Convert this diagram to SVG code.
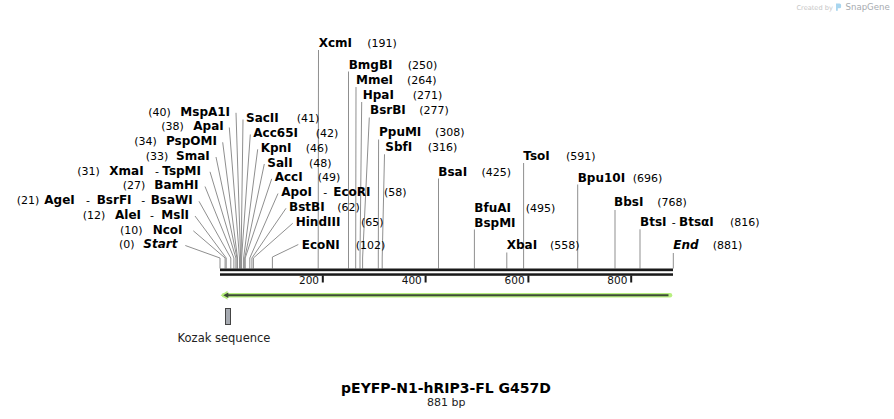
<svg xmlns="http://www.w3.org/2000/svg" width="894" height="419" viewBox="0 0 894 419">
<style>
text{font-family:"DejaVu Sans",Verdana,sans-serif;fill:#000}
.n{font-weight:bold;font-size:12px}
.i{font-style:italic}
.p{font-size:11px;font-weight:normal}
.d{font-size:11px;font-weight:normal}
.ln{stroke:#8f8f8f;stroke-width:1;fill:none}
.ax{fill:#1a1a1a}
.tk{font-size:10.5px;fill:#111;text-anchor:end}
</style>
<rect width="894" height="419" fill="#fff"/>

<g id="watermark">
<text x="796.5" y="9.5" style="font-size:6.6px;fill:#c6c6c6">Created by</text>
<path d="M836 3.5h3.5a1.6 1.6 0 0 1 1.6 1.6v1.6a1.6 1.6 0 0 1-1.6 1.6h-1.7v2.4h-1.8z" fill="#a9d6ef"/>
<text x="845.5" y="10.3" style="font-size:8.6px;fill:#a7abb0">SnapGene</text>
</g>

<g id="connectors">
<polyline class="ln" points="185.3,245.5 220,258 220,268.5"/>
<polyline class="ln" points="193.3,230.8 225.1,258 225.1,268.5"/>
<polyline class="ln" points="195,216 226.2,258 226.2,268.5"/>
<polyline class="ln" points="199,201.3 230.8,258 230.8,268.5"/>
<polyline class="ln" points="205,186.5 233.9,258 233.9,268.5"/>
<polyline class="ln" points="210,171.8 235.9,258 235.9,268.5"/>
<polyline class="ln" points="216,157 237,258 237,268.5"/>
<polyline class="ln" points="222.7,142.3 237.5,258 237.5,268.5"/>
<polyline class="ln" points="229.3,127.5 239.5,258 239.5,268.5"/>
<polyline class="ln" points="236,112.8 240.6,258 240.6,268.5"/>
<polyline class="ln" points="243,119.5 241.1,258 241.1,268.5"/>
<polyline class="ln" points="250.3,134.5 241.6,258 241.6,268.5"/>
<polyline class="ln" points="257.7,149.3 243.6,258 243.6,268.5"/>
<polyline class="ln" points="264.3,164 244.7,258 244.7,268.5"/>
<polyline class="ln" points="271.7,178.8 245.2,258 245.2,268.5"/>
<polyline class="ln" points="278,193.5 249.8,258 249.8,268.5"/>
<polyline class="ln" points="286,208.3 251.9,258 251.9,268.5"/>
<polyline class="ln" points="292.7,223.3 253.4,258 253.4,268.5"/>
<polyline class="ln" points="298.3,244.5 272.4,257 272.4,268.5"/>
<polyline class="ln" points="318.5,50 318.2,258 318.2,268.5"/>
<polyline class="ln" points="348.5,71.5 348.5,258 348.5,268.5"/>
<polyline class="ln" points="356,87 355.7,258 355.7,268.5"/>
<polyline class="ln" points="361.7,102 360,258 360,268.5"/>
<polyline class="ln" points="369.3,117.5 362.6,258 362.6,268.5"/>
<polyline class="ln" points="378.6,139.5 378.3,258 378.3,268.5"/>
<polyline class="ln" points="384.5,154.3 382.2,258 382.2,268.5"/>
<polyline class="ln" points="438.5,178.5 438.5,258 438.5,268.5"/>
<polyline class="ln" points="474.4,229.5 474.4,258 474.4,268.5"/>
<polyline class="ln" points="506.8,252.5 506.8,258 506.8,268.5"/>
<polyline class="ln" points="523.6,163 523.6,258 523.6,268.5"/>
<polyline class="ln" points="577.7,184.5 577.7,258 577.7,268.5"/>
<polyline class="ln" points="615,210 615,258 615,268.5"/>
<polyline class="ln" points="640,229.3 640,258 640,268.5"/>
<polyline class="ln" points="673.3,253 673.3,258 673.3,268.5"/>
</g>

<g id="enzymes-left">
<g id="e-start"><text x="119" y="248.3"><tspan class="p">(0)</tspan><tspan class="n i" x="143.3">Start</tspan></text></g>
<g id="e-ncoi"><text x="120" y="233.5"><tspan class="p">(10)</tspan><tspan class="n" x="152.7">NcoI</tspan></text></g>
<g id="e-alei"><text x="82.7" y="218.8"><tspan class="p">(12)</tspan><tspan class="n" x="115">AleI</tspan><tspan class="d" x="150">-</tspan><tspan class="n" x="161.3">MslI</tspan></text></g>
<g id="e-agei"><text x="16.7" y="204"><tspan class="p">(21)</tspan><tspan class="n" x="44.3">AgeI</tspan><tspan class="d" x="86">-</tspan><tspan class="n" x="96.7">BsrFI</tspan><tspan class="d" x="141.3">-</tspan><tspan class="n" x="150.7">BsaWI</tspan></text></g>
<g id="e-bamhi"><text x="122.7" y="189.3"><tspan class="p">(27)</tspan><tspan class="n" x="154.3">BamHI</tspan></text></g>
<g id="e-xmai"><text x="77.3" y="174.5"><tspan class="p">(31)</tspan><tspan class="n" x="109.3">XmaI</tspan><tspan class="d" x="155">-</tspan><tspan class="n" x="162.3">TspMI</tspan></text></g>
<g id="e-smai"><text x="145.7" y="159.8"><tspan class="p">(33)</tspan><tspan class="n" x="176">SmaI</tspan></text></g>
<g id="e-pspomi"><text x="134.3" y="145"><tspan class="p">(34)</tspan><tspan class="n" x="166">PspOMI</tspan></text></g>
<g id="e-apai"><text x="161.3" y="130.3"><tspan class="p">(38)</tspan><tspan class="n" x="193.3">ApaI</tspan></text></g>
<g id="e-mspa1i"><text x="148.3" y="115.5"><tspan class="p">(40)</tspan><tspan class="n" x="180.3">MspA1I</tspan></text></g>
</g>

<g id="enzymes-right">
<g id="e-sacii"><text x="246" y="122"><tspan class="n">SacII</tspan><tspan class="p" x="296.7">(41)</tspan></text></g>
<g id="e-acc65i"><text x="253.3" y="137"><tspan class="n">Acc65I</tspan><tspan class="p" x="315.7">(42)</tspan></text></g>
<g id="e-kpni"><text x="260.7" y="151.8"><tspan class="n">KpnI</tspan><tspan class="p" x="305.7">(46)</tspan></text></g>
<g id="e-sali"><text x="267.3" y="166.5"><tspan class="n">SalI</tspan><tspan class="p" x="309">(48)</tspan></text></g>
<g id="e-acci"><text x="274.7" y="181.3"><tspan class="n">AccI</tspan><tspan class="p" x="317.7">(49)</tspan></text></g>
<g id="e-ecori"><text x="281.3" y="196"><tspan class="n">ApoI</tspan><tspan class="d" x="323.3">-</tspan><tspan class="n" x="333.3">EcoRI</tspan><tspan class="p" x="384">(58)</tspan></text></g>
<g id="e-bstbi"><text x="289" y="210.8"><tspan class="n">BstBI</tspan><tspan class="p" x="337.3">(62)</tspan></text></g>
<g id="e-hindiii"><text x="295.7" y="225.8"><tspan class="n">HindIII</tspan><tspan class="p" x="361">(65)</tspan></text></g>
<g id="e-econi"><text x="301.7" y="248.5"><tspan class="n">EcoNI</tspan><tspan class="p" x="355.7">(102)</tspan></text></g>
<g id="e-xcmi"><text x="318.7" y="47"><tspan class="n">XcmI</tspan><tspan class="p" x="367.3">(191)</tspan></text></g>
<g id="e-bmgbi"><text x="348.7" y="68.8"><tspan class="n">BmgBI</tspan><tspan class="p" x="407.7">(250)</tspan></text></g>
<g id="e-mmei"><text x="356" y="84"><tspan class="n">MmeI</tspan><tspan class="p" x="407">(264)</tspan></text></g>
<g id="e-hpai"><text x="362.7" y="99"><tspan class="n">HpaI</tspan><tspan class="p" x="412.7">(271)</tspan></text></g>
<g id="e-bsrbi"><text x="370" y="114.3"><tspan class="n">BsrBI</tspan><tspan class="p" x="419.3">(277)</tspan></text></g>
<g id="e-ppumi"><text x="379" y="136.3"><tspan class="n">PpuMI</tspan><tspan class="p" x="435">(308)</tspan></text></g>
<g id="e-sbfi"><text x="385.3" y="151.3"><tspan class="n">SbfI</tspan><tspan class="p" x="427.7">(316)</tspan></text></g>
<g id="e-bsai"><text x="438.3" y="175.7"><tspan class="n">BsaI</tspan><tspan class="p" x="481.5">(425)</tspan></text></g>
<g id="e-bfuai"><text x="474.3" y="212"><tspan class="n">BfuAI</tspan><tspan class="p" x="525.7">(495)</tspan></text><text class="n" x="474.3" y="226.5">BspMI</text></g>
<g id="e-xbai"><text x="506.7" y="249"><tspan class="n">XbaI</tspan><tspan class="p" x="550">(558)</tspan></text></g>
<g id="e-tsoi"><text x="523.3" y="160"><tspan class="n">TsoI</tspan><tspan class="p" x="566">(591)</tspan></text></g>
<g id="e-bpu10i"><text x="577.7" y="181.5"><tspan class="n">Bpu10I</tspan><tspan class="p" x="632.7">(696)</tspan></text></g>
<g id="e-bbsi"><text x="614" y="206"><tspan class="n">BbsI</tspan><tspan class="p" x="657.3">(768)</tspan></text></g>
<g id="e-btsi"><text x="640" y="226.3"><tspan class="n">BtsI</tspan><tspan class="d" x="671.7">-</tspan><tspan class="n" x="679">BtsαI</tspan><tspan class="p" x="730">(816)</tspan></text></g>
<g id="e-end"><text x="673.3" y="248.5"><tspan class="n i">End</tspan><tspan class="p" x="712.7">(881)</tspan></text></g>
</g>

<g id="axis">
<rect class="ax" x="220" y="268.5" width="453" height="2.7"/>
<rect class="ax" x="220" y="273.3" width="453" height="2.5"/>
<rect class="ax" x="321.8" y="275.5" width="2" height="7"/>
<rect class="ax" x="424.6" y="275.5" width="2" height="7"/>
<rect class="ax" x="527.4" y="275.5" width="2" height="7"/>
<rect class="ax" x="630.2" y="275.5" width="2" height="7"/>
<text class="tk" x="319" y="284">200</text>
<text class="tk" x="421.8" y="284">400</text>
<text class="tk" x="524.6" y="284">600</text>
<text class="tk" x="627.4" y="284">800</text>
</g>

<g id="feature-arrow">
<line x1="224" y1="295.3" x2="670" y2="295.3" stroke="#b7ef7f" stroke-width="4.5" stroke-linecap="round"/>
<polygon points="220.6,295.3 227.5,290.8 227.5,299.8" fill="#b7ef7f"/>
<line x1="227" y1="295.3" x2="668.5" y2="295.3" stroke="#3e4d36" stroke-width="2"/>
<polygon points="223.3,295.3 228.3,292.5 228.3,298.1" fill="#3e4d36"/>
</g>

<g id="kozak">
<rect x="225.5" y="308.5" width="5" height="16" fill="#a6aab1" stroke="#444" stroke-width="1"/>
<text x="177.6" y="342" style="font-size:11.5px;fill:#222">Kozak sequence</text>
</g>

<g id="title">
<text x="446" y="392.7" text-anchor="middle" style="font-size:14px;font-weight:bold">pEYFP-N1-hRIP3-FL G457D</text>
<text x="446.3" y="406" text-anchor="middle" style="font-size:11px;fill:#222">881 bp</text>
</g>
</svg>
